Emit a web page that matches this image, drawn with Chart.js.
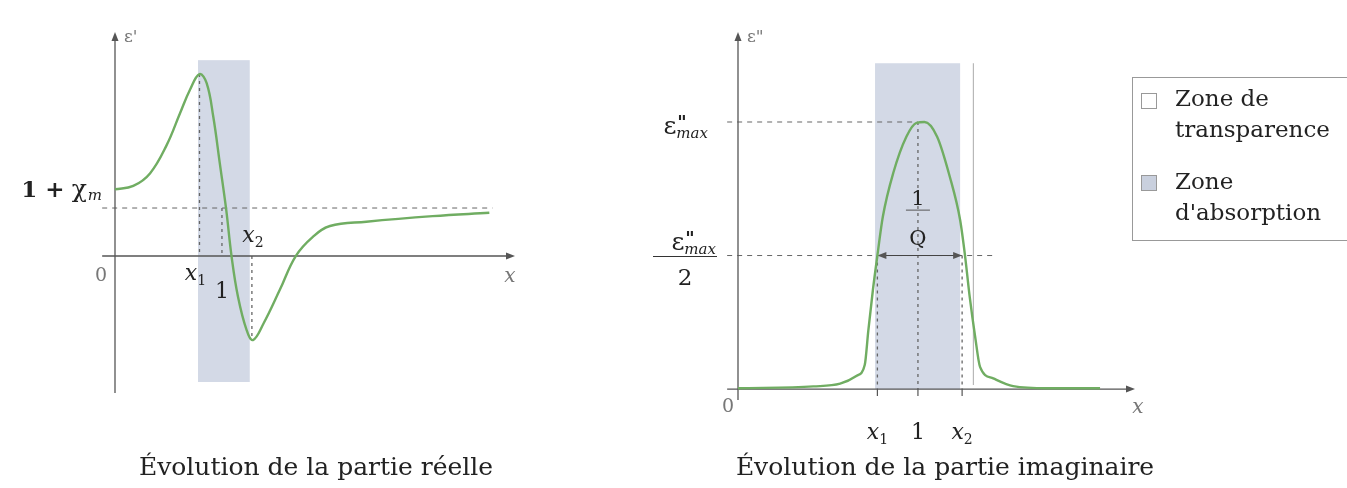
<!DOCTYPE html>
<html>
<head>
<meta charset="utf-8">
<script src="https://cdn.jsdelivr.net/npm/chart.js@4"></script>
<style>
  body { margin: 0; background: #fff; width: 1347px; height: 488px; overflow: hidden; position: relative; font-family: "DejaVu Serif", serif; color: #222; }
  #cReel { position: absolute; left: 0; top: 0; }
  #cImag { position: absolute; left: 560px; top: 0; }
  .titre { position: absolute; top: 452px; font-size: 25px; white-space: nowrap; transform: translateX(-50%); }
  .legende { position: absolute; left: 1132px; top: 77px; width: 240px; height: 162px; border: 1px solid #999; border-right: none; }
  .item { position: absolute; left: 42px; font-size: 23px; line-height: 31px; }
  .carre { position: absolute; left: 8px; width: 14px; height: 14px; border: 1px solid #999; }
</style>
</head>
<body>
<canvas id="cReel" width="560" height="488"></canvas>
<canvas id="cImag" width="787" height="488"></canvas>

<div class="titre" style="left:316px">Évolution de la partie réelle</div>
<div class="titre" style="left:945px">Évolution de la partie imaginaire</div>

<div class="legende">
  <div class="carre" style="top:15px;background:#fff"></div>
  <div class="item" style="top:5px">Zone de<br>transparence</div>
  <div class="carre" style="top:97px;background:#c9d0de"></div>
  <div class="item" style="top:88px">Zone<br>d'absorption</div>
</div>

<script>
// ── Partie réelle ε'(x) ──
const reelX = [0, 0.171, 0.327, 0.483, 0.607, 0.70, 0.79, 0.857, 0.919, 0.98, 1.04, 1.09, 1.15, 1.23, 1.29, 1.39, 1.54, 1.69, 1.85, 2.01, 2.35, 2.97, 3.50];
const reelY = [1.39, 1.46, 1.72, 2.31, 2.97, 3.46, 3.79, 3.60, 2.90, 1.93, 0.96, -0.01, -0.85, -1.54, -1.75, -1.40, -0.71, 0, 0.40, 0.625, 0.715, 0.83, 0.90];
const reelMarks = [0.79, 1.0, 1.28];        // x1, 1, x2
const reelZone = [0.776, 1.26];             // zone d'absorption
const reelLimite = 1.0;                     // asymptote ε' -> 1
const reelDepart = 1.39;                    // 1 + χm

// ── Partie imaginaire ε''(x) ──
const imagX = [0, 0.416, 0.564, 0.656, 0.70, 0.72, 0.745, 0.77, 0.80, 0.858, 0.93, 0.986, 1.03, 1.10, 1.17, 1.227, 1.254, 1.28, 1.31, 1.337, 1.41, 1.52, 1.71, 2.0];
const imagY = [0.003, 0.01, 0.02, 0.05, 0.09, 0.22, 0.37, 0.50, 0.645, 0.81, 0.945, 0.997, 1.0, 0.945, 0.795, 0.633, 0.50, 0.345, 0.196, 0.083, 0.04, 0.011, 0.003, 0.003];
const imagMarks = [0.77, 0.994, 1.238];
const imagZone = [0.757, 1.227];
const imagMax = 1.0;
const imagDemi = 0.5;

const vert = '#70ad62';
const bleuZone = '#d3d9e6';
const gris = '#555';
const SERIF = '"DejaVu Serif", serif';

// texte composé : [{t, f, dy, dx}]
function texte(ctx, parts, x, y, align) {
    let w = 0;
    parts.forEach(p => { ctx.font = p.f; w += ctx.measureText(p.t).width + (p.dx || 0); });
    let cx = align === 'center' ? x - w / 2 : align === 'right' ? x - w : x;
    ctx.textBaseline = 'alphabetic';
    ctx.textAlign = 'left';
    parts.forEach(p => {
        ctx.font = p.f;
        ctx.fillStyle = p.c || '#222';
        cx += (p.dx || 0);
        ctx.fillText(p.t, cx, y + (p.dy || 0));
        cx += ctx.measureText(p.t).width;
    });
}

// ε''max : epsilon, double prime au-dessus, indice "max"
function epsMax(ctx, xDroite, y) {
    ctx.textBaseline = 'alphabetic';
    ctx.textAlign = 'left';
    ctx.font = 'italic 15px ' + SERIF;
    const wm = ctx.measureText('max').width;
    ctx.font = '25px ' + SERIF;
    const we = ctx.measureText('ε').width;
    const x0 = xDroite - wm - we;
    ctx.fillStyle = '#222';
    ctx.fillText('ε', x0, y);
    ctx.font = 'italic 15px ' + SERIF;
    ctx.fillText('max', x0 + we, y + 4);
    ctx.font = 'bold 18px ' + SERIF;
    ctx.fillText('"', x0 + we + 1, y - 5);
}

function ligne(ctx, x1, y1, x2, y2, dash, color, w) {
    ctx.save();
    ctx.beginPath();
    ctx.setLineDash(dash || []);
    ctx.strokeStyle = color || gris;
    ctx.lineWidth = w || 1;
    ctx.moveTo(x1, y1);
    ctx.lineTo(x2, y2);
    ctx.stroke();
    ctx.restore();
}

function pointe(ctx, x, y, dir) {
    ctx.save();
    ctx.fillStyle = gris;
    ctx.beginPath();
    if (dir === 'up') { ctx.moveTo(x, y); ctx.lineTo(x - 3.5, y + 9); ctx.lineTo(x + 3.5, y + 9); }
    if (dir === 'right') { ctx.moveTo(x, y); ctx.lineTo(x - 9, y - 3.5); ctx.lineTo(x - 9, y + 3.5); }
    if (dir === 'left') { ctx.moveTo(x, y); ctx.lineTo(x + 9, y - 3.5); ctx.lineTo(x + 9, y + 3.5); }
    ctx.closePath();
    ctx.fill();
    ctx.restore();
}

const xSub = (i, c) => [
    { t: 'x', f: 'italic 22px ' + SERIF, c: c },
    { t: String(i), f: '14px ' + SERIF, dy: 5, c: c }
];

const decorReel = {
    id: 'decorReel',
    beforeDatasetsDraw(chart) {
        const ctx = chart.ctx;
        const sx = v => chart.scales.x.getPixelForValue(v);
        const sy = v => chart.scales.y.getPixelForValue(v);
        const y0 = sy(0);
        // zone d'absorption
        ctx.fillStyle = bleuZone;
        ctx.fillRect(sx(reelZone[0]), sy(4.08), sx(reelZone[1]) - sx(reelZone[0]), sy(-2.625) - sy(4.08));
        // pointillés
        ligne(ctx, sx(-0.12), sy(reelLimite), sx(3.53), sy(reelLimite), [5, 5], '#666');
        ligne(ctx, sx(reelMarks[0]), sy(3.79), sx(reelMarks[0]), y0, [3, 4], '#666', 1.3);
        ligne(ctx, sx(reelMarks[1]), sy(reelLimite), sx(reelMarks[1]), y0, [3, 4], '#666', 1.3);
        ligne(ctx, sx(reelMarks[2]), y0, sx(reelMarks[2]), sy(-1.75), [3, 4], '#666', 1.3);
        // axes
        ligne(ctx, sx(-0.12), y0, sx(3.74) - 4, y0, null, gris, 1.3);
        pointe(ctx, sx(3.74), y0, 'right');
        ligne(ctx, sx(0), sy(-2.854), sx(0), chart.chartArea.top + 4, null, gris, 1.3);
        pointe(ctx, sx(0), chart.chartArea.top, 'up');
    },
    afterDatasetsDraw(chart) {
        const ctx = chart.ctx;
        const sx = v => chart.scales.x.getPixelForValue(v);
        const sy = v => chart.scales.y.getPixelForValue(v);
        const y0 = sy(0);
        texte(ctx, [{ t: "ε'", f: '17px ' + SERIF, c: '#777' }], sx(0) + 9, chart.chartArea.top + 10, 'left');
        texte(ctx, [
            { t: '1 +', f: 'bold 23px ' + SERIF },
            { t: 'χ', f: '25px ' + SERIF, dx: 7 },
            { t: 'm', f: 'italic 15px ' + SERIF, dy: 3, dx: 1 }
        ], sx(0) - 13, sy(reelDepart) + 8, 'right');
        texte(ctx, [{ t: '0', f: '19px ' + SERIF, c: '#777' }], sx(0) - 14, y0 + 25, 'center');
        texte(ctx, xSub(1), sx(reelMarks[0]) - 4, y0 + 24, 'center');
        texte(ctx, [{ t: '1', f: '22px ' + SERIF }], sx(reelMarks[1]), y0 + 42, 'center');
        texte(ctx, xSub(2), sx(reelMarks[2]) + 1, y0 - 14, 'center');
        texte(ctx, [{ t: 'x', f: 'italic 20px ' + SERIF, c: '#777' }], sx(3.74) - 5, y0 + 26, 'center');
    }
};

const decorImag = {
    id: 'decorImag',
    beforeDatasetsDraw(chart) {
        const ctx = chart.ctx;
        const sx = v => chart.scales.x.getPixelForValue(v);
        const sy = v => chart.scales.y.getPixelForValue(v);
        const y0 = sy(0);
        ctx.fillStyle = bleuZone;
        ctx.fillRect(sx(imagZone[0]), sy(1.22), sx(imagZone[1]) - sx(imagZone[0]), y0 - sy(1.22));
        // trait fin à droite de la zone
        ligne(ctx, sx(1.30), sy(1.22), sx(1.30), sy(0.015), null, '#aaa', 1);
        ligne(ctx, sx(-0.06), sy(imagMax), sx(imagMarks[1]), sy(imagMax), [5, 5], '#666');
        ligne(ctx, sx(-0.06), sy(imagDemi), sx(1.42), sy(imagDemi), [5, 5], '#666');
        ligne(ctx, sx(imagMarks[0]), sy(imagDemi), sx(imagMarks[0]), y0, [3, 4], '#666', 1.3);
        ligne(ctx, sx(imagMarks[1]), sy(imagMax), sx(imagMarks[1]), y0, [3, 4], '#666', 1.3);
        ligne(ctx, sx(imagMarks[2]), sy(imagDemi), sx(imagMarks[2]), y0, [3, 4], '#666', 1.3);
        // double flèche 1/Q
        ligne(ctx, sx(imagMarks[0]) + 6, sy(imagDemi), sx(imagMarks[2]) - 6, sy(imagDemi), null, '#444', 1.2);
        pointe(ctx, sx(imagMarks[0]), sy(imagDemi), 'left');
        pointe(ctx, sx(imagMarks[2]), sy(imagDemi), 'right');
        // axes + graduations
        ligne(ctx, sx(-0.06), y0, sx(2.193) - 4, y0, null, gris, 1.3);
        pointe(ctx, sx(2.193), y0, 'right');
        ligne(ctx, sx(0), sy(-0.041), sx(0), chart.chartArea.top + 4, null, gris, 1.3);
        pointe(ctx, sx(0), chart.chartArea.top, 'up');
        imagMarks.forEach(m => ligne(ctx, sx(m), y0, sx(m), y0 + 7, null, gris, 1.2));
    },
    afterDatasetsDraw(chart) {
        const ctx = chart.ctx;
        const sx = v => chart.scales.x.getPixelForValue(v);
        const sy = v => chart.scales.y.getPixelForValue(v);
        const y0 = sy(0);
        texte(ctx, [{ t: 'ε"', f: '17px ' + SERIF, c: '#777' }], sx(0) + 9, chart.chartArea.top + 10, 'left');
        epsMax(ctx, sx(0) - 30, sy(imagMax) + 12);
        epsMax(ctx, sx(0) - 22, sy(imagDemi) - 6);
        ligne(ctx, sx(0) - 85, sy(imagDemi) + 1, sx(0) - 21, sy(imagDemi) + 1, null, '#333', 1.2);
        texte(ctx, [{ t: '2', f: '23px ' + SERIF }], sx(0) - 53, sy(imagDemi) + 29, 'center');
        // 1/Q
        const xc = sx(imagMarks[1]);
        texte(ctx, [{ t: '1', f: '21px ' + SERIF }], xc, sy(0.69), 'center');
        ligne(ctx, xc - 12, sy(0.67), xc + 12, sy(0.67), null, '#555', 1);
        texte(ctx, [{ t: 'Q', f: '21px ' + SERIF }], xc, sy(0.54), 'center');
        texte(ctx, [{ t: '0', f: '19px ' + SERIF, c: '#777' }], sx(0) - 10, y0 + 23, 'center');
        texte(ctx, xSub(1), sx(imagMarks[0]), y0 + 50, 'center');
        texte(ctx, [{ t: '1', f: '22px ' + SERIF }], sx(imagMarks[1]), y0 + 50, 'center');
        texte(ctx, xSub(2), sx(imagMarks[2]), y0 + 50, 'center');
        texte(ctx, [{ t: 'x', f: 'italic 20px ' + SERIF, c: '#777' }], sx(2.193) + 3, y0 + 24, 'center');
    }
};

function courbe(xs, ys) {
    return xs.map((x, i) => ({ x: x, y: ys[i] }));
}

function options(xmin, xmax, ymin, ymax, pad) {
    return {
        responsive: false,
        animation: false,
        layout: { padding: pad },
        plugins: { legend: { display: false }, tooltip: { enabled: false } },
        scales: {
            x: { type: 'linear', min: xmin, max: xmax, display: false },
            y: { type: 'linear', min: ymin, max: ymax, display: false }
        }
    };
}

new Chart(document.getElementById('cReel'), {
    type: 'line',
    data: {
        datasets: [{
            data: courbe(reelX, reelY),
            borderColor: vert,
            borderWidth: 2.4,
            pointRadius: 0,
            tension: 0.4,
            clip: false
        }]
    },
    options: options(0, 3.74, -2.854, 4.667, { left: 115, right: 45, top: 32, bottom: 95 }),
    plugins: [decorReel]
});

new Chart(document.getElementById('cImag'), {
    type: 'line',
    data: {
        datasets: [{
            data: courbe(imagX, imagY),
            borderColor: vert,
            borderWidth: 2.4,
            pointRadius: 0,
            cubicInterpolationMode: 'monotone',
            clip: false
        }]
    },
    options: options(0, 2.193, -0.041, 1.337, { left: 178, right: 212, top: 32, bottom: 88 }),
    plugins: [decorImag]
});
</script>
</body>
</html>
